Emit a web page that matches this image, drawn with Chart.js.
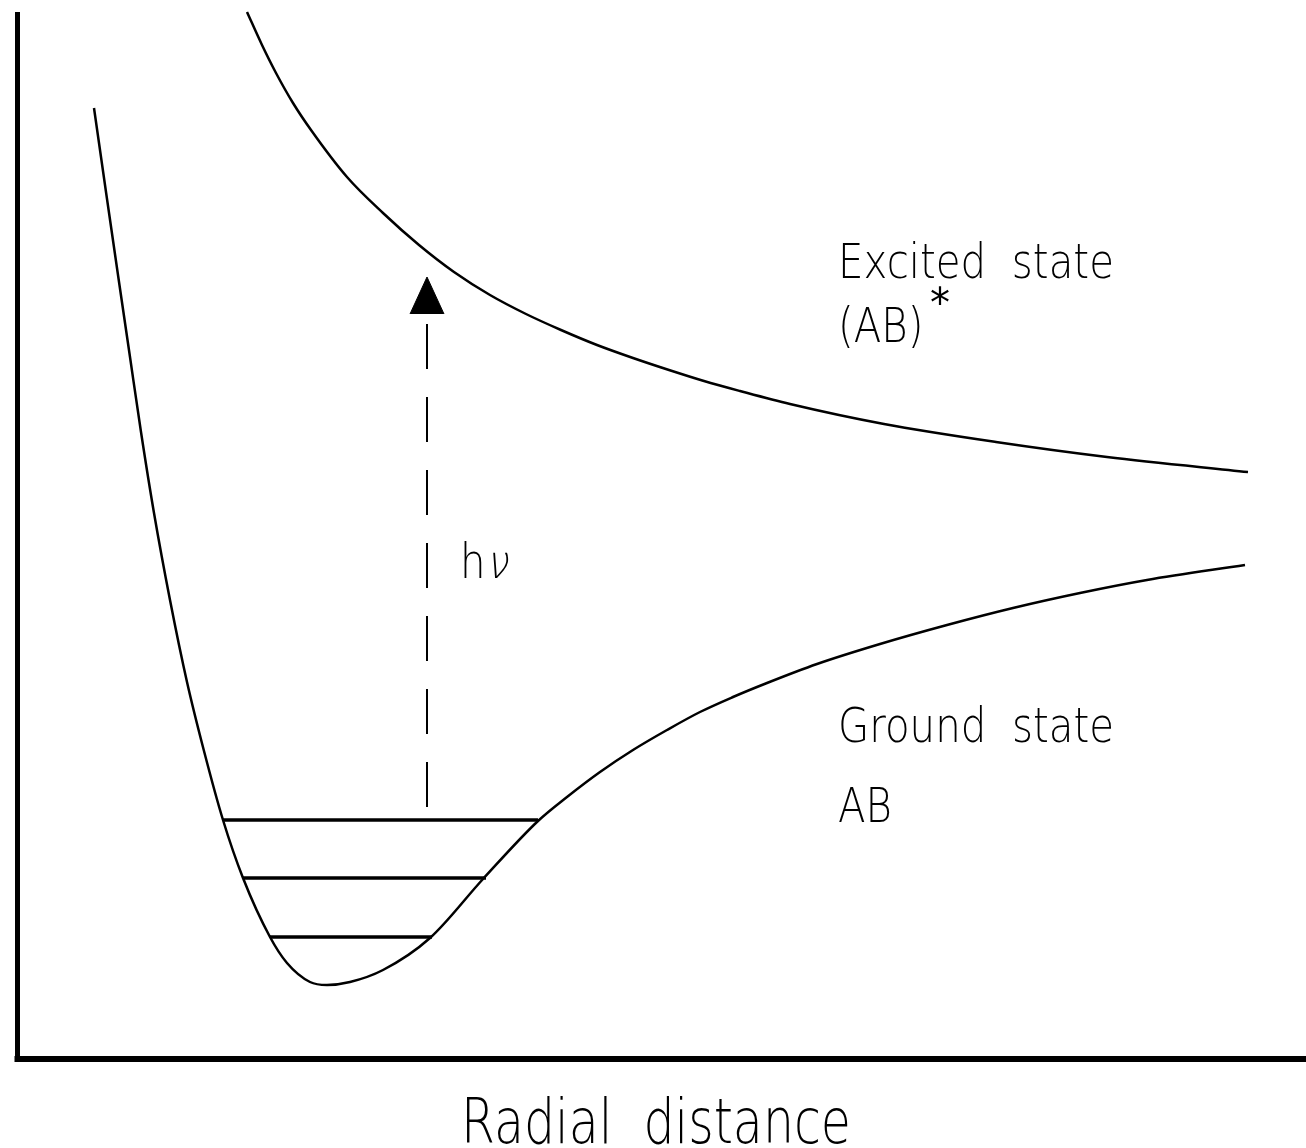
<!DOCTYPE html>
<html>
<head>
<meta charset="utf-8">
<script src="https://cdn.jsdelivr.net/npm/chart.js@4.4.0/dist/chart.umd.min.js"></script>
<style>
  html, body { margin: 0; padding: 0; background: #fff; }
  canvas { display: block; }
</style>
</head>
<body>
<canvas id="chart" width="1306" height="1148"></canvas>
<script>
// Potential energy curves, arbitrary units
// x = radial distance, y = energy
const groundX = [0.76, 0.88, 1.00, 1.12, 1.23, 1.36, 1.52, 1.69, 1.86, 2.05, 2.25, 2.52, 2.69, 2.92, 3.09,
                 3.32, 3.65, 4.12, 4.65, 5.20, 5.49, 5.82, 6.15, 6.49, 6.82, 7.15, 7.49, 7.99, 8.62, 9.29,
                 9.95, 10.62, 11.29, 12.27];
const groundY = [9.50, 8.66, 7.83, 7.01, 6.26, 5.45, 4.58, 3.76, 3.07, 2.38, 1.80, 1.21, 0.95, 0.76, 0.73,
                 0.76, 0.88, 1.20, 1.79, 2.37, 2.61, 2.86, 3.08, 3.28, 3.46, 3.61, 3.75, 3.94, 4.14, 4.33,
                 4.50, 4.65, 4.78, 4.93];

const excitedX = [2.29, 2.44, 2.58, 2.75, 2.93, 3.29, 3.65, 4.01, 4.36, 4.72, 5.08, 5.43, 5.79, 6.15, 6.51,
                  6.86, 7.22, 7.72, 8.66, 9.78, 10.89, 12.30];
const excitedY = [10.46, 10.13, 9.85, 9.55, 9.28, 8.81, 8.45, 8.13, 7.86, 7.63, 7.44, 7.28, 7.13, 7.00, 6.88,
                  6.77, 6.67, 6.54, 6.34, 6.16, 6.01, 5.86];

// vibrational levels of the ground state
const levelY = [2.38, 1.80, 1.21];
const levelStart = [2.05, 2.25, 2.52];
const levelEnd = [5.20, 4.68, 4.14];

// h nu absorption arrow
const photonX = 4.09;
const photonFrom = 2.51;
const photonTo = 7.35;
const photonTip = 7.81;
const headBase = 7.44;
const headHalf = 0.17;

const xMax = 12.88;
const yMax = 10.58;

const FONT = '"DejaVu Sans", "Liberation Sans", sans-serif';

const texts = [
    { text: 'Excited  state', x: 8.20, y: 7.80, size: 48 },
    { text: '(AB)', x: 8.20, y: 7.16, size: 48 },
    { text: '*', x: 9.12, y: 7.41, size: 40, weight: 'normal', squeeze: 1 },
    { text: 'Ground  state', x: 8.20, y: 3.16, size: 48 },
    { text: 'AB', x: 8.20, y: 2.36, size: 48 },
    { text: 'h', x: 4.42, y: 4.80, size: 48 },
    { text: 'ν', x: 4.68, y: 4.80, size: 46, skew: -0.22 },
    { text: 'Radial  distance', x: 6.38, y: -0.85, size: 62, align: 'center', squeeze: 0.79 }
];

function pairs(xs, ys) {
    return xs.map((v, i) => ({ x: v, y: ys[i] }));
}

const lineBase = {
    borderColor: '#000',
    pointRadius: 0,
    pointHoverRadius: 0,
    fill: false
};

const datasets = [
    { ...lineBase, label: 'Ground state', data: pairs(groundX, groundY), borderWidth: 2.5, cubicInterpolationMode: 'monotone' },
    { ...lineBase, label: 'Excited state', data: pairs(excitedX, excitedY), borderWidth: 2.5, cubicInterpolationMode: 'monotone' }
];

levelY.forEach((ly, i) => {
    datasets.push({
        ...lineBase,
        label: 'v' + i,
        data: [{ x: levelStart[i], y: ly }, { x: levelEnd[i], y: ly }],
        borderWidth: 3.5,
        tension: 0
    });
});

datasets.push({
    ...lineBase,
    label: 'hv',
    data: [{ x: photonX, y: photonFrom }, { x: photonX, y: photonTo }],
    borderWidth: 2,
    borderDash: [45, 28],
    tension: 0
});

datasets.push({
    ...lineBase,
    label: 'head',
    data: [{ x: photonX - headHalf, y: headBase }, { x: photonX, y: photonTip }, { x: photonX + headHalf, y: headBase }],
    borderWidth: 1,
    backgroundColor: '#000',
    fill: 'shape',
    tension: 0
});

// plain L-shaped axes
const axesPlugin = {
    id: 'figureAxes',
    beforeDatasetsDraw(chart) {
        const { ctx, scales: { x, y } } = chart;
        const x0 = x.getPixelForValue(0) - 0.5;
        const y0 = y.getPixelForValue(0) + 1;
        ctx.save();
        ctx.strokeStyle = '#000';
        ctx.lineWidth = 5;
        ctx.beginPath();
        ctx.moveTo(x0, y.getPixelForValue(excitedY[0]));
        ctx.lineTo(x0, y0 + 2);
        ctx.stroke();
        ctx.lineWidth = 6;
        ctx.beginPath();
        ctx.moveTo(x0 - 3, y0);
        ctx.lineTo(x.getPixelForValue(xMax), y0);
        ctx.stroke();
        ctx.restore();
    }
};

const textPlugin = {
    id: 'figureText',
    afterDraw(chart) {
        const { ctx, scales: { x, y } } = chart;
        ctx.save();
        ctx.fillStyle = '#000';
        texts.forEach(t => {
            ctx.save();
            ctx.translate(x.getPixelForValue(t.x), y.getPixelForValue(t.y));
            ctx.scale(t.squeeze || 0.84, 1);
            if (t.skew) ctx.transform(1, 0, t.skew, 1, 0, 0);
            ctx.font = `normal ${t.weight || 200} ${t.size}px ${FONT}`;
            ctx.textAlign = t.align || 'left';
            ctx.textBaseline = 'alphabetic';
            ctx.fillText(t.text, 0, 0);
            ctx.restore();
        });
        ctx.restore();
    }
};

new Chart(document.getElementById('chart'), {
    type: 'line',
    data: { datasets },
    options: {
        responsive: false,
        animation: false,
        devicePixelRatio: 1,
        events: [],
        layout: { padding: { left: 18, right: 0, top: 0, bottom: 90 } },
        scales: {
            x: { type: 'linear', min: 0, max: xMax, display: false },
            y: { type: 'linear', min: 0, max: yMax, display: false }
        },
        plugins: {
            legend: { display: false },
            tooltip: { enabled: false }
        }
    },
    plugins: [axesPlugin, textPlugin]
});
</script>
</body>
</html>
